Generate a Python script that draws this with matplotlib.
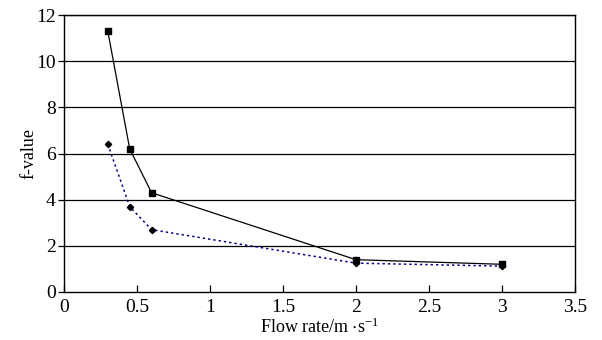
from matplotlib import pyplot as plt

# flow rate (m/s) and f-values
flow = [0.3, 0.45, 0.6, 2, 3]
f_square = [11.3, 6.2, 4.3, 1.4, 1.2]
f_diamond = [6.4, 3.7, 2.7, 1.25, 1.12]

x_ticks = [0, 0.5, 1, 1.5, 2, 2.5, 3, 3.5]
y_ticks = [0, 2, 4, 6, 8, 10, 12]

plt.rcParams['font.family'] = 'serif'
plt.rcParams['font.serif'] = ['Liberation Serif', 'STIXGeneral', 'DejaVu Serif']
plt.rcParams['mathtext.fontset'] = 'stix'

fig = plt.figure(figsize=(6.02, 3.4), dpi=100)
ax = fig.add_axes([64 / 602, 48 / 340, 511 / 602, 277 / 340])

for y in y_ticks[1:]:
    ax.axhline(y, color='black', lw=0.9, zorder=1)

ax.plot(flow, f_diamond, color='#000080', ls=(0, (1.5, 2)), lw=1.1,
        marker='D', ms=3.2, mfc='black', mec='black', zorder=3)
ax.plot(flow, f_square, color='black', lw=0.9,
        marker='s', ms=5, mfc='black', mec='black', zorder=4)

ax.set_xlim(0, 3.5)
ax.set_ylim(0, 12)
ax.set_xticks(x_ticks)
ax.set_xticklabels(['0', '0.5', '1', '1.5', '2', '2.5', '3', '3.5'])
ax.set_yticks(y_ticks)
ax.set_yticklabels([str(v) for v in y_ticks])
ax.tick_params(axis='x', direction='in', length=5, width=0.9, labelsize=14, pad=5)
ax.tick_params(axis='y', direction='out', length=4, width=0.9, labelsize=14, pad=2)
for s in ax.spines.values():
    s.set_linewidth(1.0)

ax.set_xlabel(r'Flow rate/m $\cdot$s$^{\mathregular{-1}}$', fontsize=13, labelpad=1)
ax.set_ylabel('f-value', fontsize=13, labelpad=-1)

fig.savefig('out.png', dpi=100)
